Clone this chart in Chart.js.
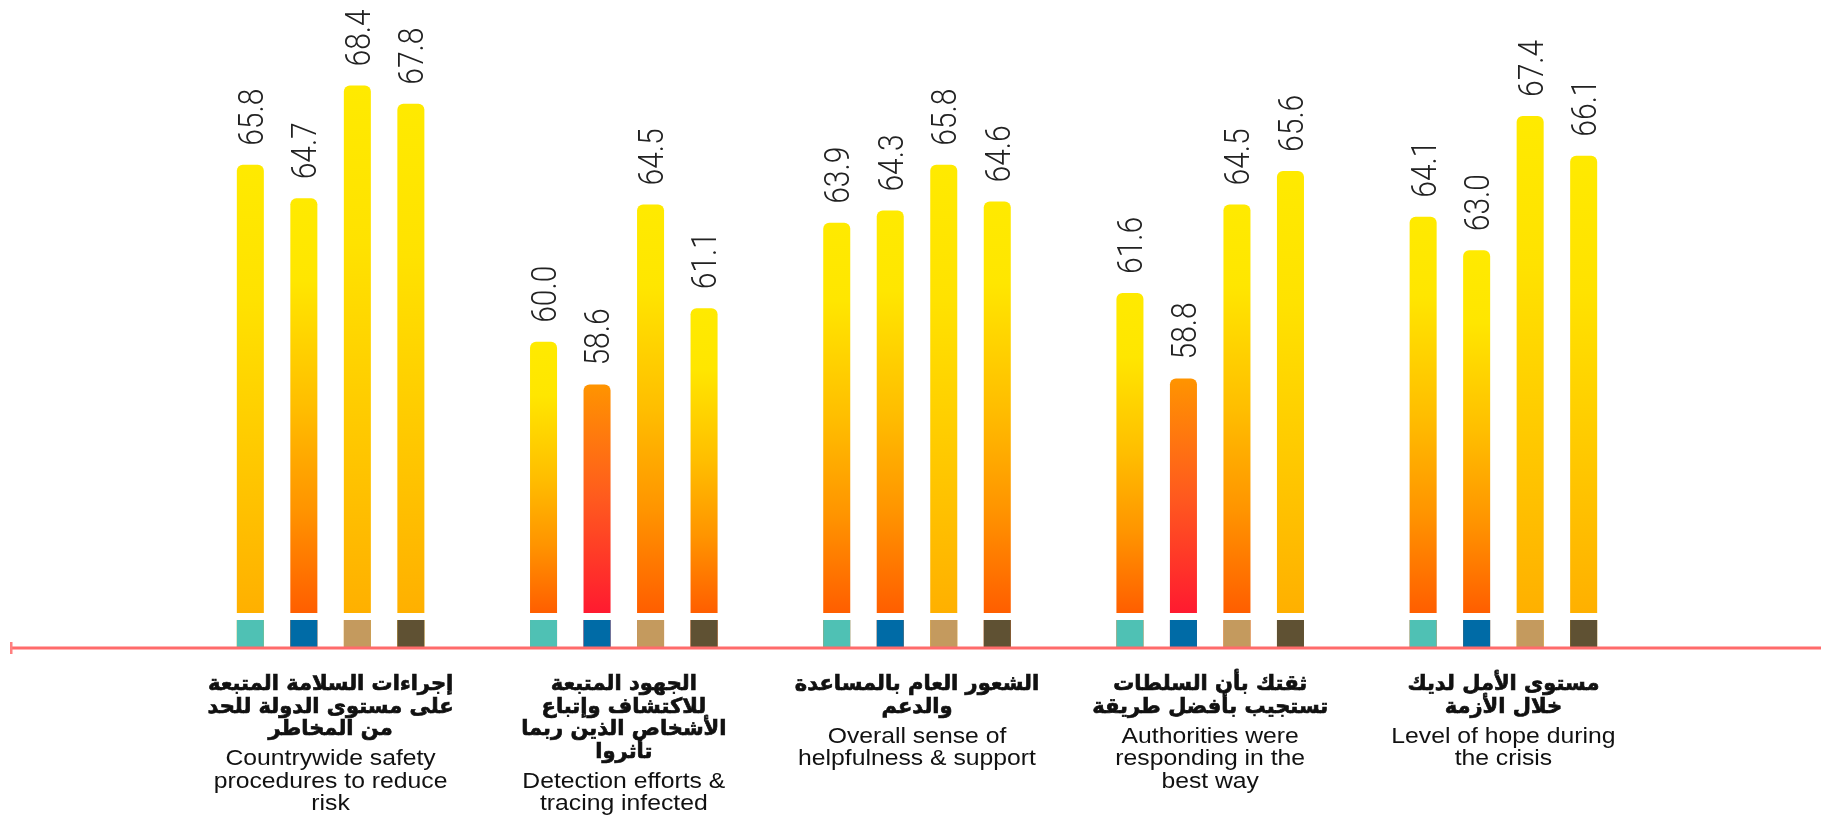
<!DOCTYPE html>
<html>
<head>
<meta charset="utf-8">
<script src="https://cdn.jsdelivr.net/npm/chart.js@4.4.1/dist/chart.umd.min.js"></script>
<style>
  html, body { margin: 0; padding: 0; background: #fff; }
</style>
</head>
<body>
<canvas id="scoreChart" width="1821" height="819"></canvas>
<script>
// category headings: Arabic lines, then English lines
const arabicLabels = [
    ["إجراءات السلامة المتبعة", "على مستوى الدولة للحد", "من المخاطر"],
    ["الجهود المتبعة", "للاكتشاف وإتباع", "الأشخاص الذين ربما", "تأثروا"],
    ["الشعور العام بالمساعدة", "والدعم"],
    ["ثقتك بأن السلطات", "تستجيب بأفضل طريقة"],
    ["مستوى الأمل لديك", "خلال الأزمة"]
];
const englishLabels = [
    ["Countrywide safety", "procedures to reduce", "risk"],
    ["Detection efforts &", "tracing infected"],
    ["Overall sense of", "helpfulness & support"],
    ["Authorities were", "responding in the", "best way"],
    ["Level of hope during", "the crisis"]
];

// four series, one score per category
const series1 = [65.8, 60.0, 63.9, 61.6, 64.1];
const series2 = [64.7, 58.6, 64.3, 58.8, 63.0];
const series3 = [68.4, 64.5, 65.8, 64.5, 67.4];
const series4 = [67.8, 61.1, 64.6, 65.6, 66.1];

const swatchColors = ["#4fc1b4", "#006ba6", "#c49a5e", "#5f5133"];
const yMin = 50;
const yMax = 71.2;
const stretchX = 1.15; // latin text is drawn slightly wide

// yellow-to-red fill, redder for lower scores
function barFill(c) {
    const chart = c.chart;
    const area = chart.chartArea;
    if (!area || c.type !== "data") return "#ffd000";
    const v = c.raw;
    const top = chart.scales.y.getPixelForValue(v);
    const bottom = area.bottom - 34;
    const g = chart.ctx.createLinearGradient(0, top, 0, bottom);
    if (v < 59) {
        g.addColorStop(0, "#ff9400");
        g.addColorStop(0.5, "#ff5a1e");
        g.addColorStop(1, "#ff1a30");
    } else if (v < 65) {
        g.addColorStop(0, "#ffea00");
        g.addColorStop(0.2, "#ffe600");
        g.addColorStop(0.5, "#ffbe00");
        g.addColorStop(0.75, "#ff9400");
        g.addColorStop(1, "#ff5e00");
    } else {
        g.addColorStop(0, "#ffea00");
        g.addColorStop(0.3, "#ffe200");
        g.addColorStop(1, "#ffb000");
    }
    return g;
}

// swatches under each bar, rotated value labels and the base line
const barDecor = {
    id: "barDecor",
    afterDatasetsDraw(chart) {
        const { ctx, chartArea } = chart;
        const bottom = chartArea.bottom;
        chart.data.datasets.forEach((ds, di) => {
            chart.getDatasetMeta(di).data.forEach((bar, i) => {
                const w = bar.width;
                const left = bar.x - w / 2;
                ctx.fillStyle = "#fff";
                ctx.fillRect(left - 1, bottom - 34, w + 2, 7);
                ctx.fillStyle = swatchColors[di];
                ctx.fillRect(left, bottom - 27, w, 27);

                ctx.save();
                ctx.translate(bar.x, bar.y - 19);
                ctx.scale(stretchX, 1);
                ctx.rotate(-Math.PI / 2);
                ctx.font = "300 30px Roboto";
                ctx.fillStyle = "#222";
                ctx.textAlign = "left";
                ctx.textBaseline = "alphabetic";
                ctx.fillText(ds.data[i].toFixed(1), 0, 0.36 * 30);
                ctx.restore();
            });
        });

        ctx.save();
        ctx.strokeStyle = "#ff6b6b";
        ctx.lineWidth = 3;
        ctx.beginPath();
        ctx.moveTo(11, bottom + 1);
        ctx.lineTo(chart.width, bottom + 1);
        ctx.stroke();
        ctx.fillStyle = "#ff8080";
        ctx.fillRect(10, bottom - 5, 2.5, 12);
        ctx.restore();
    },
    afterDraw(chart) {
        const { ctx } = chart;
        const xScale = chart.scales.x;
        ctx.save();
        ctx.fillStyle = "#111";
        ctx.strokeStyle = "#111";
        ctx.lineWidth = 0.7;
        ctx.textAlign = "center";
        ctx.textBaseline = "middle";
        arabicLabels.forEach((lines, i) => {
            const cx = xScale.getPixelForValue(i);
            let y = 685;
            ctx.font = "bold 21px 'DejaVu Sans'";
            ctx.direction = "rtl";
            lines.forEach(line => {
                ctx.fillText(line, cx, y);
                ctx.strokeText(line, cx, y);
                y += 22.5;
            });
            y += 7;
            ctx.font = "21.5px 'Liberation Sans'";
            ctx.direction = "ltr";
            englishLabels[i].forEach(line => {
                ctx.save();
                ctx.translate(cx, y);
                ctx.scale(stretchX, 1);
                ctx.fillText(line, 0, 0);
                ctx.restore();
                y += 22.5;
            });
        });
        ctx.restore();
    }
};

const datasets = [series1, series2, series3, series4].map(values => ({
    data: values,
    backgroundColor: barFill,
    borderWidth: 0,
    borderRadius: { topLeft: 6, topRight: 6, bottomLeft: 0, bottomRight: 0 },
    borderSkipped: "bottom",
    categoryPercentage: 0.73,
    barPercentage: 0.505
}));

new Chart(document.getElementById("scoreChart"), {
    type: "bar",
    data: { labels: englishLabels.map(l => l.join(" ")), datasets: datasets },
    options: {
        responsive: false,
        animation: false,
        layout: { padding: { left: 184, right: 171, top: 0, bottom: 172 } },
        plugins: { legend: { display: false }, tooltip: { enabled: false } },
        scales: {
            x: { display: false },
            y: { display: false, min: yMin, max: yMax }
        }
    },
    plugins: [barDecor]
});
</script>
</body>
</html>
